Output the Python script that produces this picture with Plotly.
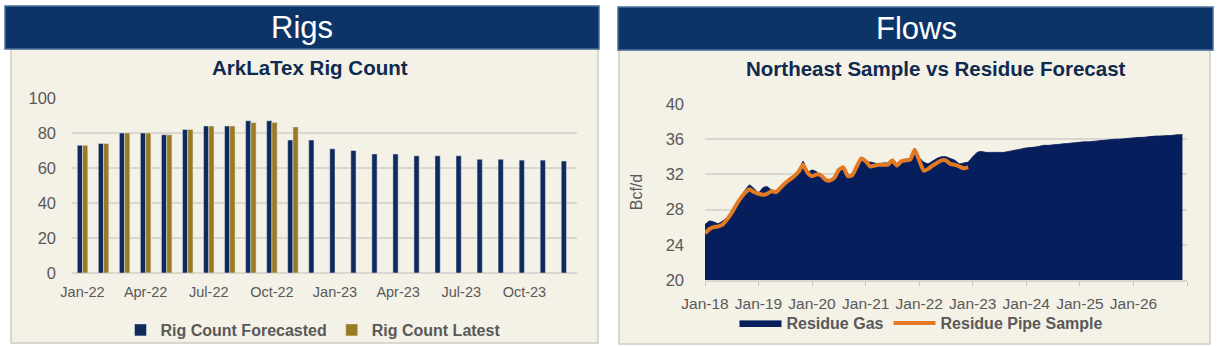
import plotly.graph_objects as go

W, H = 1221, 346

# ---------------- data ----------------
rig_months = ["Jan-22", "Feb-22", "Mar-22", "Apr-22", "May-22", "Jun-22", "Jul-22", "Aug-22",
              "Sep-22", "Oct-22", "Nov-22", "Dec-22", "Jan-23", "Feb-23", "Mar-23", "Apr-23",
              "May-23", "Jun-23", "Jul-23", "Aug-23", "Sep-23", "Oct-23", "Nov-23", "Dec-23"]
rig_forecasted = [73, 74, 80, 80, 79, 82, 84, 84, 87, 87, 76, 76,
                  71, 70, 68, 68, 67, 67, 67, 65, 65, 64.5, 64.5, 64]
rig_latest = [73, 74, 80, 80, 79, 82, 84, 84, 86, 86, 83.5, None,
              None, None, None, None, None, None, None, None, None, None, None, None]
rig_tick_labels = ["Jan-22", "Apr-22", "Jul-22", "Oct-22", "Jan-23", "Apr-23", "Jul-23", "Oct-23"]

flow_start_year = 2018
residue_gas = [26.3, 26.7, 26.6, 26.4, 26.7, 27.1, 27.6, 28.6, 29.5, 30.2, 30.8, 30.4,
               29.9, 30.5, 30.6, 30.2, 30.1, 30.6, 31.1, 31.6, 31.9, 32.3, 33.5, 32.2,
               32.5, 32.3, 31.8, 31.5, 31.4, 31.8, 32.6, 32.7, 31.9, 32.1, 33.0, 33.9,
               33.4, 33.4, 33.3, 33.2, 33.3, 33.3, 33.6, 33.2, 33.6, 33.7, 33.8, 34.9,
               33.9, 33.4, 33.2, 33.5, 33.8, 34.0, 34.0, 33.8, 33.6, 33.2, 33.3, 33.4,
               34.0, 34.5, 34.6, 34.5, 34.5, 34.5, 34.5, 34.5, 34.6, 34.7, 34.8, 34.9,
               35.0, 35.05, 35.1, 35.2, 35.3, 35.3, 35.35, 35.4, 35.45, 35.5, 35.55, 35.6,
               35.65, 35.7, 35.7, 35.75, 35.8, 35.85, 35.9, 35.95, 36.0, 36.0, 36.05, 36.1,
               36.15, 36.2, 36.2, 36.25, 36.3, 36.35, 36.35, 36.4, 36.4, 36.45, 36.5, 36.5]
residue_pipe_sample = [25.3, 25.8, 26.0, 26.1, 26.3, 26.9, 27.6, 28.5, 29.3, 29.9, 30.3, 30.0,
                       29.8, 29.7, 29.8, 30.1, 30.0, 30.5, 31.0, 31.4, 31.8, 32.3, 33.1, 32.2,
                       31.8, 32.0, 31.9, 31.4, 31.3, 31.6, 32.5, 32.8, 31.8, 31.9, 32.9, 33.8,
                       33.5, 32.9, 33.0, 33.1, 33.1, 33.1, 33.6, 33.0, 33.5, 33.6, 33.7, 34.8,
                       33.6, 32.4, 32.6, 33.0, 33.3, 33.6, 33.6, 33.2, 33.1, 32.9, 32.7, 32.8]
flow_tick_dates = ["2018-01-01", "2019-01-01", "2020-01-01", "2021-01-01", "2022-01-01",
                   "2023-01-01", "2024-01-01", "2025-01-01", "2026-01-01", "2027-01-01"]
flow_tick_labels = ["Jan-18", "Jan-19", "Jan-20", "Jan-21", "Jan-22", "Jan-23", "Jan-24",
                    "Jan-25", "Jan-26", ""]


def month_dates(n):
    out = []
    for i in range(n):
        y = flow_start_year + i // 12
        m = i % 12 + 1
        out.append(f"{y}-{m:02d}-01")
    return out


gas_dates = month_dates(len(residue_gas))
pipe_dates = month_dates(len(residue_pipe_sample))

# ---------------- style ----------------
NAVY_HDR = "#0D3467"
NAVY_BAR = "#0E2B5C"
GOLD = "#9A7B24"
AREA = "#061E5B"
ORANGE = "#E27A24"
BEIGE = "#F4F1E7"
GRID = "#DAD7CF"
GREY_TXT = "#595959"
TITLE_TXT = "#0F2A4E"
FONT = "Liberation Sans, Arial, sans-serif"


def px(x):
    return x / W


def py(y):
    return 1 - y / H


fig = go.Figure()

fig.add_trace(go.Bar(x=rig_months, y=rig_forecasted, name="Rig Count Forecasted",
                     marker_color=NAVY_BAR, xaxis="x", yaxis="y", legend="legend"))
fig.add_trace(go.Bar(x=rig_months, y=rig_latest, name="Rig Count Latest",
                     marker_color=GOLD, xaxis="x", yaxis="y", legend="legend"))

fig.add_trace(go.Scatter(x=gas_dates, y=residue_gas, name="Residue Gas", mode="lines",
                         fill="tozeroy", fillcolor=AREA,
                         line=dict(color=AREA, width=1, shape="spline", smoothing=0.5),
                         xaxis="x2", yaxis="y2", legend="legend2"))
fig.add_trace(go.Scatter(x=pipe_dates, y=residue_pipe_sample, name="Residue Pipe Sample",
                         mode="lines",
                         line=dict(color=ORANGE, width=4, shape="spline", smoothing=0.5),
                         xaxis="x2", yaxis="y2", legend="legend2"))

shapes = [
    # left panel
    dict(type="rect", xref="paper", yref="paper", x0=px(11), x1=px(598), y0=py(343), y1=py(49),
         fillcolor=BEIGE, line=dict(color="#CFCBC2", width=1.5), layer="below"),
    dict(type="rect", xref="paper", yref="paper", x0=px(5), x1=px(599), y0=py(49), y1=py(6),
         fillcolor=NAVY_HDR, line=dict(color="#4A6F99", width=1.5), layer="below"),
    # right panel
    dict(type="rect", xref="paper", yref="paper", x0=px(619), x1=px(1210), y0=py(344), y1=py(50),
         fillcolor=BEIGE, line=dict(color="#CFCBC2", width=1.5), layer="below"),
    dict(type="rect", xref="paper", yref="paper", x0=px(618), x1=px(1213), y0=py(50), y1=py(7),
         fillcolor=NAVY_HDR, line=dict(color="#4A6F99", width=1.5), layer="below"),
]

annotations = [
    dict(text="Rigs", x=px(302), y=py(28), xref="paper", yref="paper", showarrow=False,
         xanchor="center", yanchor="middle", font=dict(family=FONT, size=31, color="white")),
    dict(text="Flows", x=px(916), y=py(29), xref="paper", yref="paper", showarrow=False,
         xanchor="center", yanchor="middle", font=dict(family=FONT, size=31, color="white")),
    dict(text="<b>ArkLaTex Rig Count</b>", x=px(310), y=py(67), xref="paper", yref="paper",
         showarrow=False, xanchor="center", yanchor="middle",
         font=dict(family=FONT, size=20.5, color=TITLE_TXT)),
    dict(text="<b>Northeast Sample vs Residue Forecast</b>", x=px(936), y=py(68), xref="paper",
         yref="paper", showarrow=False, xanchor="center", yanchor="middle",
         font=dict(family=FONT, size=20.5, color=TITLE_TXT)),
]

fig.update_layout(
    width=W, height=H,
    autosize=False,
    margin=dict(l=0, r=0, t=0, b=0, pad=0, autoexpand=False),
    paper_bgcolor="white",
    plot_bgcolor="rgba(0,0,0,0)",
    barmode="group", bargap=0.5, bargroupgap=0,
    shapes=shapes, annotations=annotations,
    font=dict(family=FONT, color=GREY_TXT),
    xaxis=dict(domain=[px(72), px(577)], anchor="y", type="category", automargin=False,
               tickmode="array", tickvals=rig_tick_labels, ticktext=rig_tick_labels,
               showgrid=False, showline=False, ticks="", ticklabelstandoff=8,
               tickfont=dict(family=FONT, size=14.5, color=GREY_TXT)),
    yaxis=dict(domain=[py(273), py(98)], anchor="x", range=[0, 100], dtick=20,
               automargin=False,
               showgrid=True, gridcolor=GRID, gridwidth=1.5, zeroline=True,
               zerolinecolor=GRID, zerolinewidth=1.5, showline=False, ticks="",
               ticklabelstandoff=15,
               tickfont=dict(family=FONT, size=16.5, color=GREY_TXT)),
    xaxis2=dict(domain=[px(705), px(1187)], anchor="y2", type="date", automargin=False,
                range=["2018-01-01", "2027-01-01"],
                tickmode="array", tickvals=flow_tick_dates, ticktext=flow_tick_labels,
                showgrid=False, showline=True, linecolor=GRID, linewidth=1.5,
                ticks="outside", ticklen=4, tickcolor="#C8C5BD", tickwidth=1,
                ticklabelstandoff=5,
                tickfont=dict(family=FONT, size=15.5, color=GREY_TXT)),
    yaxis2=dict(domain=[py(280), py(104)], anchor="x2", range=[20, 40], automargin=False,
                tickmode="array", tickvals=[20, 24, 28, 32, 36, 40],
                showgrid=True, gridcolor=GRID, gridwidth=1.5, zeroline=False,
                showline=False, ticks="", ticklabelstandoff=20,
                title=dict(text="Bcf/d", standoff=19,
                           font=dict(family=FONT, size=16, color=GREY_TXT)),
                tickfont=dict(family=FONT, size=16.5, color=GREY_TXT)),
    legend=dict(orientation="h", x=px(313), y=py(330), xanchor="center", yanchor="middle",
                bgcolor="rgba(0,0,0,0)", itemwidth=30,
                font=dict(family=FONT, size=16, color=GREY_TXT, weight="bold")),
    legend2=dict(orientation="h", x=px(921), y=py(323), xanchor="center", yanchor="middle",
                 bgcolor="rgba(0,0,0,0)", itemwidth=42,
                 font=dict(family=FONT, size=16, color=GREY_TXT, weight="bold")),
    showlegend=True,
)

fig.write_html("out.html", config={"responsive": False})
